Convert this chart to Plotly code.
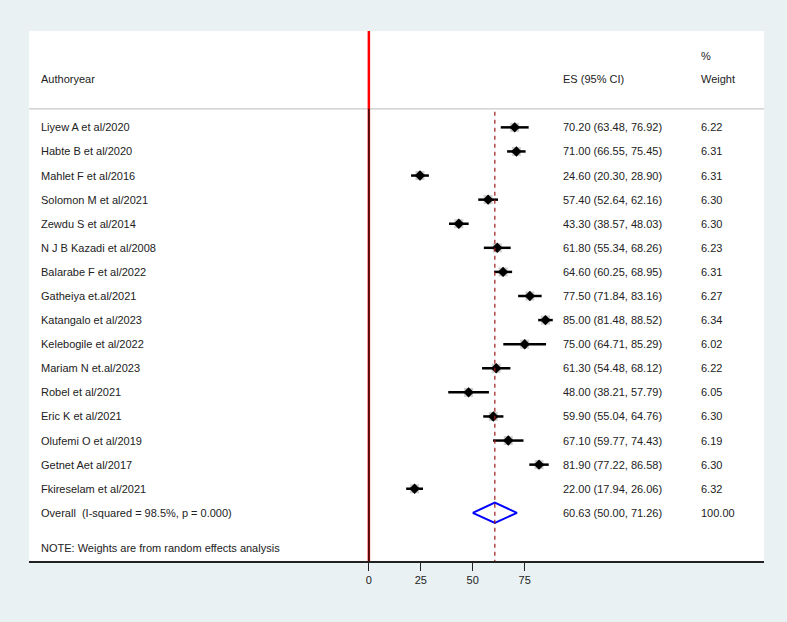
import plotly.graph_objects as go

authors = ["Liyew A et al/2020", "Habte B et al/2020", "Mahlet F et al/2016",
           "Solomon M et al/2021", "Zewdu S et al/2014", "N J B Kazadi et al/2008",
           "Balarabe F et al/2022", "Gatheiya et.al/2021", "Katangalo et al/2023",
           "Kelebogile et al/2022", "Mariam N et.al/2023", "Robel et al/2021",
           "Eric K et al/2021", "Olufemi O et al/2019", "Getnet Aet al/2017",
           "Fkireselam et al/2021"]
es = [70.20, 71.00, 24.60, 57.40, 43.30, 61.80, 64.60, 77.50, 85.00, 75.00,
      61.30, 48.00, 59.90, 67.10, 81.90, 22.00]
lo = [63.48, 66.55, 20.30, 52.64, 38.57, 55.34, 60.25, 71.84, 81.48, 64.71,
      54.48, 38.21, 55.04, 59.77, 77.22, 17.94]
hi = [76.92, 75.45, 28.90, 62.16, 48.03, 68.26, 68.95, 83.16, 88.52, 85.29,
      68.12, 57.79, 64.76, 74.43, 86.58, 26.06]
weights = [6.22, 6.31, 6.31, 6.30, 6.30, 6.23, 6.31, 6.27, 6.34, 6.02,
           6.22, 6.05, 6.30, 6.19, 6.30, 6.32]
overall_label = "Overall  (I-squared = 98.5%, p = 0.000)"
overall_es, overall_lo, overall_hi, overall_w = 60.63, 50.00, 71.26, 100.00
note = "NOTE: Weights are from random effects analysis"
tickvals = [0, 25, 50, 75]

rows = list(range(1, len(authors) + 1))
orow = len(authors) + 1
FONT = "Liberation Sans, Arial, sans-serif"

fig = go.Figure()
# weight boxes
fig.add_trace(go.Scatter(x=es, y=rows, mode="markers",
                         marker=dict(symbol="square", size=9, color="#cfcfcf"),
                         hoverinfo="skip", showlegend=False))
# CI lines
cx, cy = [], []
for l, h, r in zip(lo, hi, rows):
    cx += [l, h, None]
    cy += [r, r, None]
fig.add_trace(go.Scatter(x=cx, y=cy, mode="lines",
                         line=dict(color="black", width=2.5),
                         hoverinfo="skip", showlegend=False))
# point estimates
fig.add_trace(go.Scatter(x=es, y=rows, mode="markers",
                         marker=dict(symbol="diamond", size=8, color="black"),
                         showlegend=False))
# overall diamond
hh = 0.42
fig.add_trace(go.Scatter(x=[overall_lo, overall_es, overall_hi, overall_es, overall_lo],
                         y=[orow, orow - hh, orow, orow + hh, orow],
                         mode="lines", line=dict(color="#0000ff", width=2),
                         showlegend=False))

shapes = [
    dict(type="line", xref="paper", yref="y", x0=0, x1=1, y0=0.23, y1=0.23,
         line=dict(color="#c8c8c8", width=1.2)),
    dict(type="line", xref="x", yref="y", x0=0, x1=0, y0=-3, y1=19,
         line=dict(color="#ff0000", width=2.5)),
    dict(type="line", xref="x", yref="y", x0=0, x1=0, y0=0.23, y1=19,
         line=dict(color="#111111", width=1.3)),
    dict(type="line", xref="x", yref="y", x0=overall_es, x1=overall_es, y0=0.35, y1=19,
         line=dict(color="#9b1c1c", width=1.2, dash="4px,4px")),
]

ann = []
def txt(x, y, s):
    ann.append(dict(x=x, y=y, xref="paper", yref="y", text=s, showarrow=False,
                    xanchor="left", yanchor="middle",
                    font=dict(family=FONT, size=11, color="#222222")))

xa, xe, xw = 0.0132, 0.724, 0.912
txt(xa, -1, "Authoryear")
txt(xe, -1, "ES (95% CI)")
txt(xw, -1, "Weight")
txt(xw, -1.95, "%")
for a, e, l, h, w, r in zip(authors, es, lo, hi, weights, rows):
    txt(xa, r, a)
    txt(xe, r, f"{e:.2f} ({l:.2f}, {h:.2f})")
    txt(xw, r, f"{w:.2f}")
txt(xa, orow, overall_label)
txt(xe, orow, f"{overall_es:.2f} ({overall_lo:.2f}, {overall_hi:.2f})")
txt(xw, orow, f"{overall_w:.2f}")
txt(xa, 18.45, note)

fig.update_layout(
    width=787, height=622,
    margin=dict(l=29, r=23, t=31, b=61),
    paper_bgcolor="#e9f1f3", plot_bgcolor="white",
    shapes=shapes, annotations=ann,
    xaxis=dict(range=[-163.6, 190.2], showgrid=False, zeroline=False,
               tickvals=tickvals, ticks="outside", ticklen=8, tickwidth=1.3,
               tickcolor="#222222", showline=True, linecolor="#222222", linewidth=1.5,
               tickfont=dict(family=FONT, size=11, color="#222222")),
    yaxis=dict(range=[19, -3], showgrid=False, zeroline=False, visible=False),
)
fig.write_html("out.html", config={"displayModeBar": False},
               post_script="document.body.style.margin='0';document.body.style.padding='0';")
